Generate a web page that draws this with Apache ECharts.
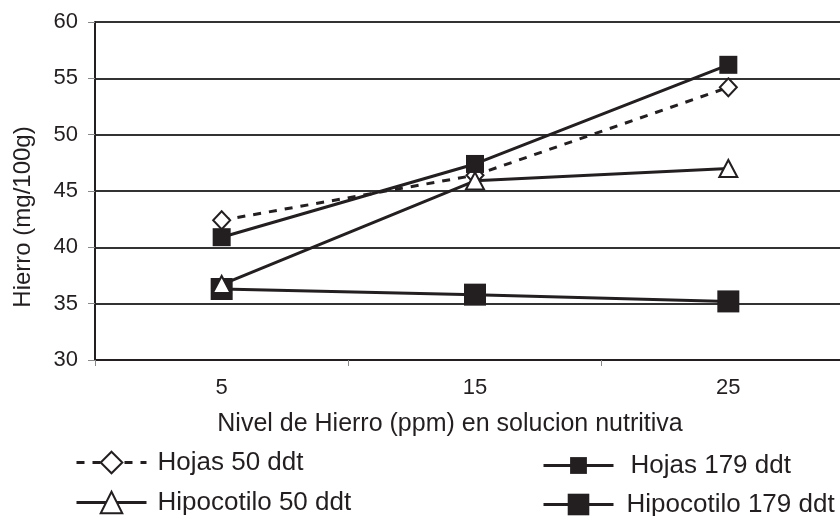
<!DOCTYPE html>
<html><head><meta charset="utf-8">
<script src="https://cdn.jsdelivr.net/npm/echarts@6/dist/echarts.min.js"></script>
<style>html,body{margin:0;padding:0;background:#fff;overflow:hidden;width:840px;height:516px}#c{width:856px;height:516px}</style>
</head><body><div id="c"></div>
<script>
const categories = ['5', '15', '25'];
const hojas50 = [42.4, 46.4, 54.2];
const hojas179 = [40.9, 47.4, 56.2];
const hipo50 = [36.7, 45.9, 47.0];
const hipo179 = [36.3, 35.8, 35.2];
const seriesNames = ['Hojas 50 ddt', 'Hojas 179 ddt', 'Hipocotilo 50 ddt', 'Hipocotilo 179 ddt'];

const INK = '#231f20';
const FONT = 'Liberation Sans';
const chart = echarts.init(document.getElementById('c'), null, {renderer: 'canvas'});

function legendAt(name, left, top, h, pad) {
  return {
    data: [name], left: left, top: top, itemWidth: 70, itemHeight: h, itemGap: 0, padding: 0,
    lineStyle: {width: 3},
    textStyle: {fontFamily: FONT, fontSize: 26, color: INK, padding: pad},
    selectedMode: false
  };
}

chart.setOption({
  animation: false,
  backgroundColor: '#fff',
  grid: {left: 95, top: 22, right: 1, bottom: 156, containLabel: false},
  legend: [
    legendAt(seriesNames[0], 75, 449.5, 27, [0, 0, 0, 6]),
    legendAt(seriesNames[2], 75, 489.5, 27, [0, 0, 10, 6]),
    legendAt(seriesNames[1], 542, 452.5, 21, [4, 0, 0, 12]),
    legendAt(seriesNames[3], 542, 491.5, 27, [0, 0, 0, 8])
  ],
  xAxis: {
    type: 'category', data: categories, boundaryGap: true,
    name: 'Nivel de Hierro (ppm) en solucion nutritiva', nameLocation: 'middle', nameGap: 52,
    nameTextStyle: {fontFamily: FONT, fontSize: 25, color: INK, padding: [0, 50, 0, 0]},
    axisLine: {lineStyle: {color: INK, width: 2}},
    axisTick: {show: true, interval: 0, length: 6, lineStyle: {color: '#888', width: 1}},
    axisLabel: {fontFamily: FONT, fontSize: 22, color: INK, margin: 17},
    splitLine: {show: false}
  },
  yAxis: {
    type: 'value', min: 30, max: 60, interval: 5,
    name: 'Hierro (mg/100g)', nameLocation: 'middle', nameGap: 60,
    nameTextStyle: {fontFamily: FONT, fontSize: 24, color: INK, padding: [0, 52, 0, 0]},
    axisLine: {show: true, lineStyle: {color: INK, width: 2}},
    axisTick: {show: true, length: 7, lineStyle: {color: '#888', width: 1}},
    axisLabel: {fontFamily: FONT, fontSize: 22, color: INK, margin: 17},
    splitLine: {show: true, lineStyle: {color: '#333', width: 2}}
  },
  series: [
    {name: seriesNames[0], type: 'line', data: hojas50, z: 3,
     symbol: 'diamond', symbolSize: [17, 18],
     lineStyle: {color: INK, width: 3, type: [8, 8]},
     itemStyle: {color: '#fff', borderColor: INK, borderWidth: 2}},
    {name: seriesNames[1], type: 'line', data: hojas179, z: 4,
     symbol: 'rect', symbolSize: 18,
     lineStyle: {color: INK, width: 3},
     itemStyle: {color: INK, borderColor: INK, borderWidth: 0}},
    {name: seriesNames[3], type: 'line', data: hipo179, z: 5,
     symbol: 'rect', symbolSize: 22,
     lineStyle: {color: INK, width: 3},
     itemStyle: {color: INK, borderColor: INK, borderWidth: 0}},
    {name: seriesNames[2], type: 'line', data: hipo50, z: 6,
     symbol: 'triangle', symbolSize: [18, 17],
     lineStyle: {color: INK, width: 3},
     itemStyle: {color: '#fff', borderColor: INK, borderWidth: 2}}
  ]
});
</script></body></html>
